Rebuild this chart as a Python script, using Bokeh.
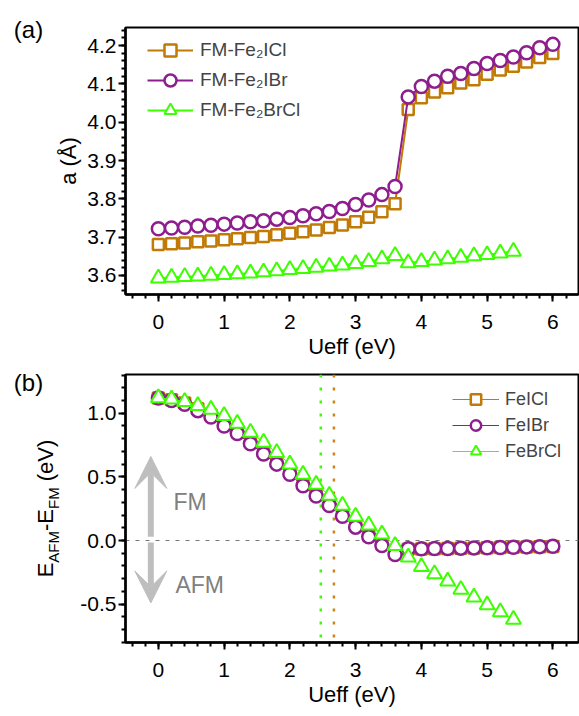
import math
from bokeh.plotting import figure
from bokeh.models import (FixedTicker, PrintfTickFormatter, Legend, LegendItem,
                          Span, Label, Arrow, VeeHead, Range1d)
from bokeh.layouts import column, row
from bokeh.embed import file_html
from bokeh.resources import INLINE

FONT = "Liberation Sans"

# ---------------- data ----------------
ueff = [0.0, 0.2, 0.4, 0.6, 0.8, 1.0, 1.2, 1.4, 1.6, 1.8, 2.0, 2.2, 2.4, 2.6, 2.8,
        3.0, 3.2, 3.4, 3.6, 3.8, 4.0, 4.2, 4.4, 4.6, 4.8, 5.0, 5.2, 5.4, 5.6, 5.8, 6.0]
ueff_brcl = [0.0, 0.2, 0.4, 0.6, 0.8, 1.0, 1.2, 1.4, 1.6, 1.8, 2.0, 2.2, 2.4, 2.6, 2.8,
             3.0, 3.2, 3.4, 3.6, 3.8, 4.0, 4.2, 4.4, 4.6, 4.8, 5.0, 5.2, 5.4]

# panel (a): lattice constant a (Angstrom)
a_fe2icl = [3.681, 3.683, 3.685, 3.688, 3.690, 3.693, 3.696, 3.699, 3.702, 3.706,
            3.710, 3.714, 3.719, 3.725, 3.732, 3.740, 3.752, 3.766, 3.787,
            4.033, 4.064, 4.079, 4.090, 4.102, 4.111, 4.125, 4.136, 4.146, 4.157, 4.169, 4.179]
a_fe2ibr = [3.722, 3.724, 3.726, 3.729, 3.731, 3.734, 3.737, 3.740, 3.743, 3.747,
            3.751, 3.756, 3.761, 3.767, 3.775, 3.785, 3.797, 3.811, 3.832,
            4.066, 4.093, 4.107, 4.120, 4.127, 4.140, 4.153, 4.161, 4.170, 4.181, 4.194, 4.203]
a_fe2brcl = [3.593, 3.595, 3.597, 3.598, 3.600, 3.602, 3.604, 3.606, 3.609, 3.612,
             3.615, 3.618, 3.621, 3.624, 3.627, 3.631, 3.636, 3.643, 3.652,
             3.633, 3.636, 3.640, 3.643, 3.647, 3.651, 3.654, 3.658, 3.663]

# panel (b): E_AFM - E_FM (eV)
de_feicl = [1.120, 1.105, 1.080, 1.035, 0.985, 0.920, 0.855, 0.780, 0.700, 0.620,
            0.540, 0.450, 0.370, 0.290, 0.205, 0.120, 0.040, -0.030, -0.100,
            -0.068, -0.066, -0.064, -0.062, -0.060, -0.059, -0.057, -0.055, -0.053, -0.051, -0.049, -0.047]
de_feibr = [1.120, 1.100, 1.070, 1.020, 0.970, 0.900, 0.840, 0.760, 0.680, 0.600,
            0.520, 0.430, 0.350, 0.275, 0.190, 0.105, 0.030, -0.040, -0.110,
            -0.065, -0.065, -0.063, -0.062, -0.060, -0.058, -0.057, -0.055, -0.053, -0.050, -0.048, -0.045]
de_febrcl = [1.120, 1.110, 1.090, 1.060, 1.030, 0.980, 0.920, 0.850, 0.770, 0.690,
             0.600, 0.520, 0.440, 0.355, 0.275, 0.190, 0.120, 0.050, -0.040,
             -0.130, -0.205, -0.262, -0.320, -0.385, -0.445, -0.505, -0.560, -0.620]

# critical Ueff (vertical dotted lines)
crit_brcl = 2.47
crit_icl = 2.67

legend_a = ["FM-Fe\u2082ICl", "FM-Fe\u2082IBr", "FM-Fe\u2082BrCl"]
legend_b = ["FeICl", "FeIBr", "FeBrCl"]

x_major = [0, 1, 2, 3, 4, 5, 6]
ya_major = [3.6, 3.7, 3.8, 3.9, 4.0, 4.1, 4.2]
yb_major = [-0.5, 0.0, 0.5, 1.0]

BROWN = "#C07A05"
PURPLE = "#8E1E8E"
GREEN = "#3CFF00"
GRAY_ARROW = "#BEBEBE"
GRAY_TEXT = "#808080"

W = 579
HA = 366
HB = 348
LEFT_A = 50     # width of the text strip left of panel (a)
LEFT_B = 68     # width of the text strip left of panel (b)
BORDER_B = 72


def style(p, y_major, y_minor, fmt):
    p.xgrid.visible = False
    p.ygrid.visible = False
    p.outline_line_color = "black"
    p.outline_line_width = 2
    p.outline_line_alpha = 1
    p.background_fill_color = "white"
    p.border_fill_color = "white"
    p.xaxis.ticker = FixedTicker(ticks=x_major,
                                 minor_ticks=[round(-0.4 + 0.2 * i, 2) for i in range(35)])
    p.yaxis.ticker = FixedTicker(ticks=y_major, minor_ticks=y_minor)
    p.xaxis.formatter = PrintfTickFormatter(format="%d")
    p.yaxis.formatter = PrintfTickFormatter(format=fmt)
    for ax in (p.xaxis[0], p.yaxis[0]):
        ax.axis_line_width = 2.5
        ax.axis_line_color = "black"
        ax.major_tick_out = 7
        ax.major_tick_in = 0
        ax.minor_tick_out = 4
        ax.minor_tick_in = 0
        ax.major_tick_line_width = 2
        ax.minor_tick_line_width = 2
        ax.major_label_text_font = FONT
        ax.major_label_text_font_size = "21px"
        ax.major_label_text_color = "black"
        ax.axis_label_text_font = FONT
        ax.axis_label_text_font_size = "22px"
        ax.axis_label_text_font_style = "normal"
        ax.axis_label_text_color = "black"
    p.xaxis.major_label_standoff = 13
    p.xaxis.axis_label_standoff = 2
    p.yaxis.major_label_standoff = 2
    p.xaxis.axis_label = "Ueff (eV)"


def text_strip(width, height):
    s = figure(width=width, height=height, x_range=Range1d(0, width), y_range=Range1d(0, height),
               output_backend="svg", toolbar_location=None,
               x_axis_location=None, y_axis_location=None, frame_align=False,
               min_border_left=0, min_border_right=0, min_border_top=0, min_border_bottom=0)
    s.xgrid.visible = False
    s.ygrid.visible = False
    s.outline_line_color = None
    s.background_fill_color = "white"
    s.border_fill_color = "white"
    return s


# ---------------- panel (a) ----------------
pa = figure(width=W - LEFT_A, height=HA, x_range=Range1d(-0.5, 6.39),
            y_range=Range1d(3.5504, 4.247),
            output_backend="svg", toolbar_location=None, frame_align=False,
            min_border_left=125 - LEFT_A, min_border_right=1, min_border_top=27,
            min_border_bottom=BORDER_B)
style(pa, ya_major, [round(3.56 + 0.02 * i, 2) for i in range(35)], "%.1f")
pa.yaxis.axis_label = "a (\u00c5)"
pa.yaxis.axis_label_standoff = 3

l1 = pa.line(ueff, a_fe2icl, line_color=BROWN, line_width=2)
s1 = pa.scatter(ueff, a_fe2icl, marker="square", size=11, line_color=BROWN, line_width=2.5,
                fill_color="white")
l2 = pa.line(ueff, a_fe2ibr, line_color=PURPLE, line_width=2)
s2 = pa.scatter(ueff, a_fe2ibr, marker="circle", size=13, line_color=PURPLE, line_width=2.5,
                fill_color="white")
l3 = pa.line(ueff_brcl, a_fe2brcl, line_color=GREEN, line_width=2)
s3 = pa.scatter(ueff_brcl, a_fe2brcl, marker="triangle", size=15, line_color=GREEN, line_width=2,
                fill_color="white")

leg_a = Legend(items=[LegendItem(label=legend_a[0], renderers=[l1, s1]),
                      LegendItem(label=legend_a[1], renderers=[l2, s2]),
                      LegendItem(label=legend_a[2], renderers=[l3, s3])],
               location=(22, 169), glyph_width=46, glyph_height=30, label_height=30,
               spacing=0, padding=0, margin=0, border_line_color=None,
               background_fill_alpha=0, label_text_font=FONT, label_text_font_size="19px",
               label_standoff=7)
pa.add_layout(leg_a)

ta = text_strip(LEFT_A, HA)
ta.add_layout(Label(x=28, y=HA - 29, text="(a)", text_font=FONT, text_font_size="24px",
                    text_align="center", text_baseline="middle", text_color="black"))

# ---------------- panel (b) ----------------
pb = figure(width=W - LEFT_B, height=HB, x_range=Range1d(-0.5, 6.39),
            y_range=Range1d(-0.801, 1.304),
            output_backend="svg", toolbar_location=None, frame_align=False,
            min_border_left=125 - LEFT_B, min_border_right=1, min_border_top=8,
            min_border_bottom=BORDER_B)
style(pb, yb_major, [round(-0.8 + 0.1 * i, 2) for i in range(22)], "%.1f")

pb.add_layout(Span(location=0, dimension="width", line_color="#777777", line_width=1.2,
                   line_dash="4 6", level="underlay"))
pb.add_layout(Span(location=crit_brcl, dimension="height", line_color=GREEN, line_width=2.5,
                   line_dash="3 10", level="underlay"))
pb.add_layout(Span(location=crit_icl, dimension="height", line_color="#C8861E", line_width=2.5,
                   line_dash="3 10", level="underlay"))

m1 = pb.line(ueff, de_feicl, line_color=BROWN, line_width=1)
n1 = pb.scatter(ueff, de_feicl, marker="square", size=11, line_color=BROWN, line_width=2.5,
                fill_color="white")
m2 = pb.line(ueff, de_feibr, line_color=PURPLE, line_width=1)
n2 = pb.scatter(ueff, de_feibr, marker="circle", size=13, line_color=PURPLE, line_width=2.5,
                fill_color="white")
m3 = pb.line(ueff_brcl, de_febrcl, line_color=GREEN, line_width=1)
n3 = pb.scatter(ueff_brcl, de_febrcl, marker="triangle", size=15, line_color=GREEN, line_width=2,
                fill_color="white")

leg_b = Legend(items=[LegendItem(label=legend_b[0], renderers=[m1, n1]),
                      LegendItem(label=legend_b[1], renderers=[m2, n2]),
                      LegendItem(label=legend_b[2], renderers=[m3, n3])],
               location=(327, 178), glyph_width=47, glyph_height=26, label_height=26,
               spacing=0, padding=0, margin=0, border_line_color=None,
               background_fill_alpha=0, label_text_font=FONT, label_text_font_size="18px",
               label_standoff=6)
pb.add_layout(leg_b)

# FM / AFM arrows
pb.add_layout(Arrow(end=VeeHead(size=32, fill_color=GRAY_ARROW, line_color=GRAY_ARROW),
                    x_start=-0.115, y_start=0.03, x_end=-0.115, y_end=0.66,
                    line_color=GRAY_ARROW, line_width=6))
pb.add_layout(Arrow(end=VeeHead(size=32, fill_color=GRAY_ARROW, line_color=GRAY_ARROW),
                    x_start=-0.115, y_start=-0.015, x_end=-0.115, y_end=-0.49,
                    line_color=GRAY_ARROW, line_width=6))
pb.add_layout(Label(x=0.23, y=0.306, text="FM", text_font=FONT, text_font_size="23px",
                    text_color=GRAY_TEXT, text_baseline="middle"))
pb.add_layout(Label(x=0.26, y=-0.353, text="AFM", text_font=FONT, text_font_size="23px",
                    text_color=GRAY_TEXT, text_baseline="middle"))

tb = text_strip(LEFT_B, HB)
tb.add_layout(Label(x=28, y=HB - 16, text="(b)", text_font=FONT, text_font_size="24px",
                    text_align="center", text_baseline="middle", text_color="black"))

# y-axis label with subscripts: E_AFM - E_FM (eV), pieces centred along a vertical line
ARIAL_W = {"E": 0.667, "A": 0.667, "F": 0.611, "M": 0.833, "-": 0.333, " ": 0.278,
           "(": 0.333, ")": 0.333, "e": 0.556, "V": 0.667}
pieces = [("E", 22, False, 0.0), ("AFM", 15, True, 0.0), ("-E", 22, False, 0.0),
          ("FM", 15, True, 0.0), ("(eV)", 22, False, 0.278 * 22)]
widths = [sum(ARIAL_W[c] for c in t) * s for t, s, _, _ in pieces]
total = sum(widths) + sum(g for _, _, _, g in pieces)
center_y = HB - (8 + 268 / 2)
pos = center_y - total / 2
for (t, s, sub, gap), w in zip(pieces, widths):
    pos += gap
    xc = 52.8 if sub else 45.4
    tb.add_layout(Label(x=xc, y=pos + w / 2, text=t, angle=math.pi / 2,
                        text_font=FONT, text_font_size=f"{s}px",
                        text_baseline="middle", text_align="center", text_color="black"))
    pos += w

layout = column(row(ta, pa, spacing=0), row(tb, pb, spacing=0), spacing=0)
open("out.html", "w").write(file_html(layout, INLINE))
